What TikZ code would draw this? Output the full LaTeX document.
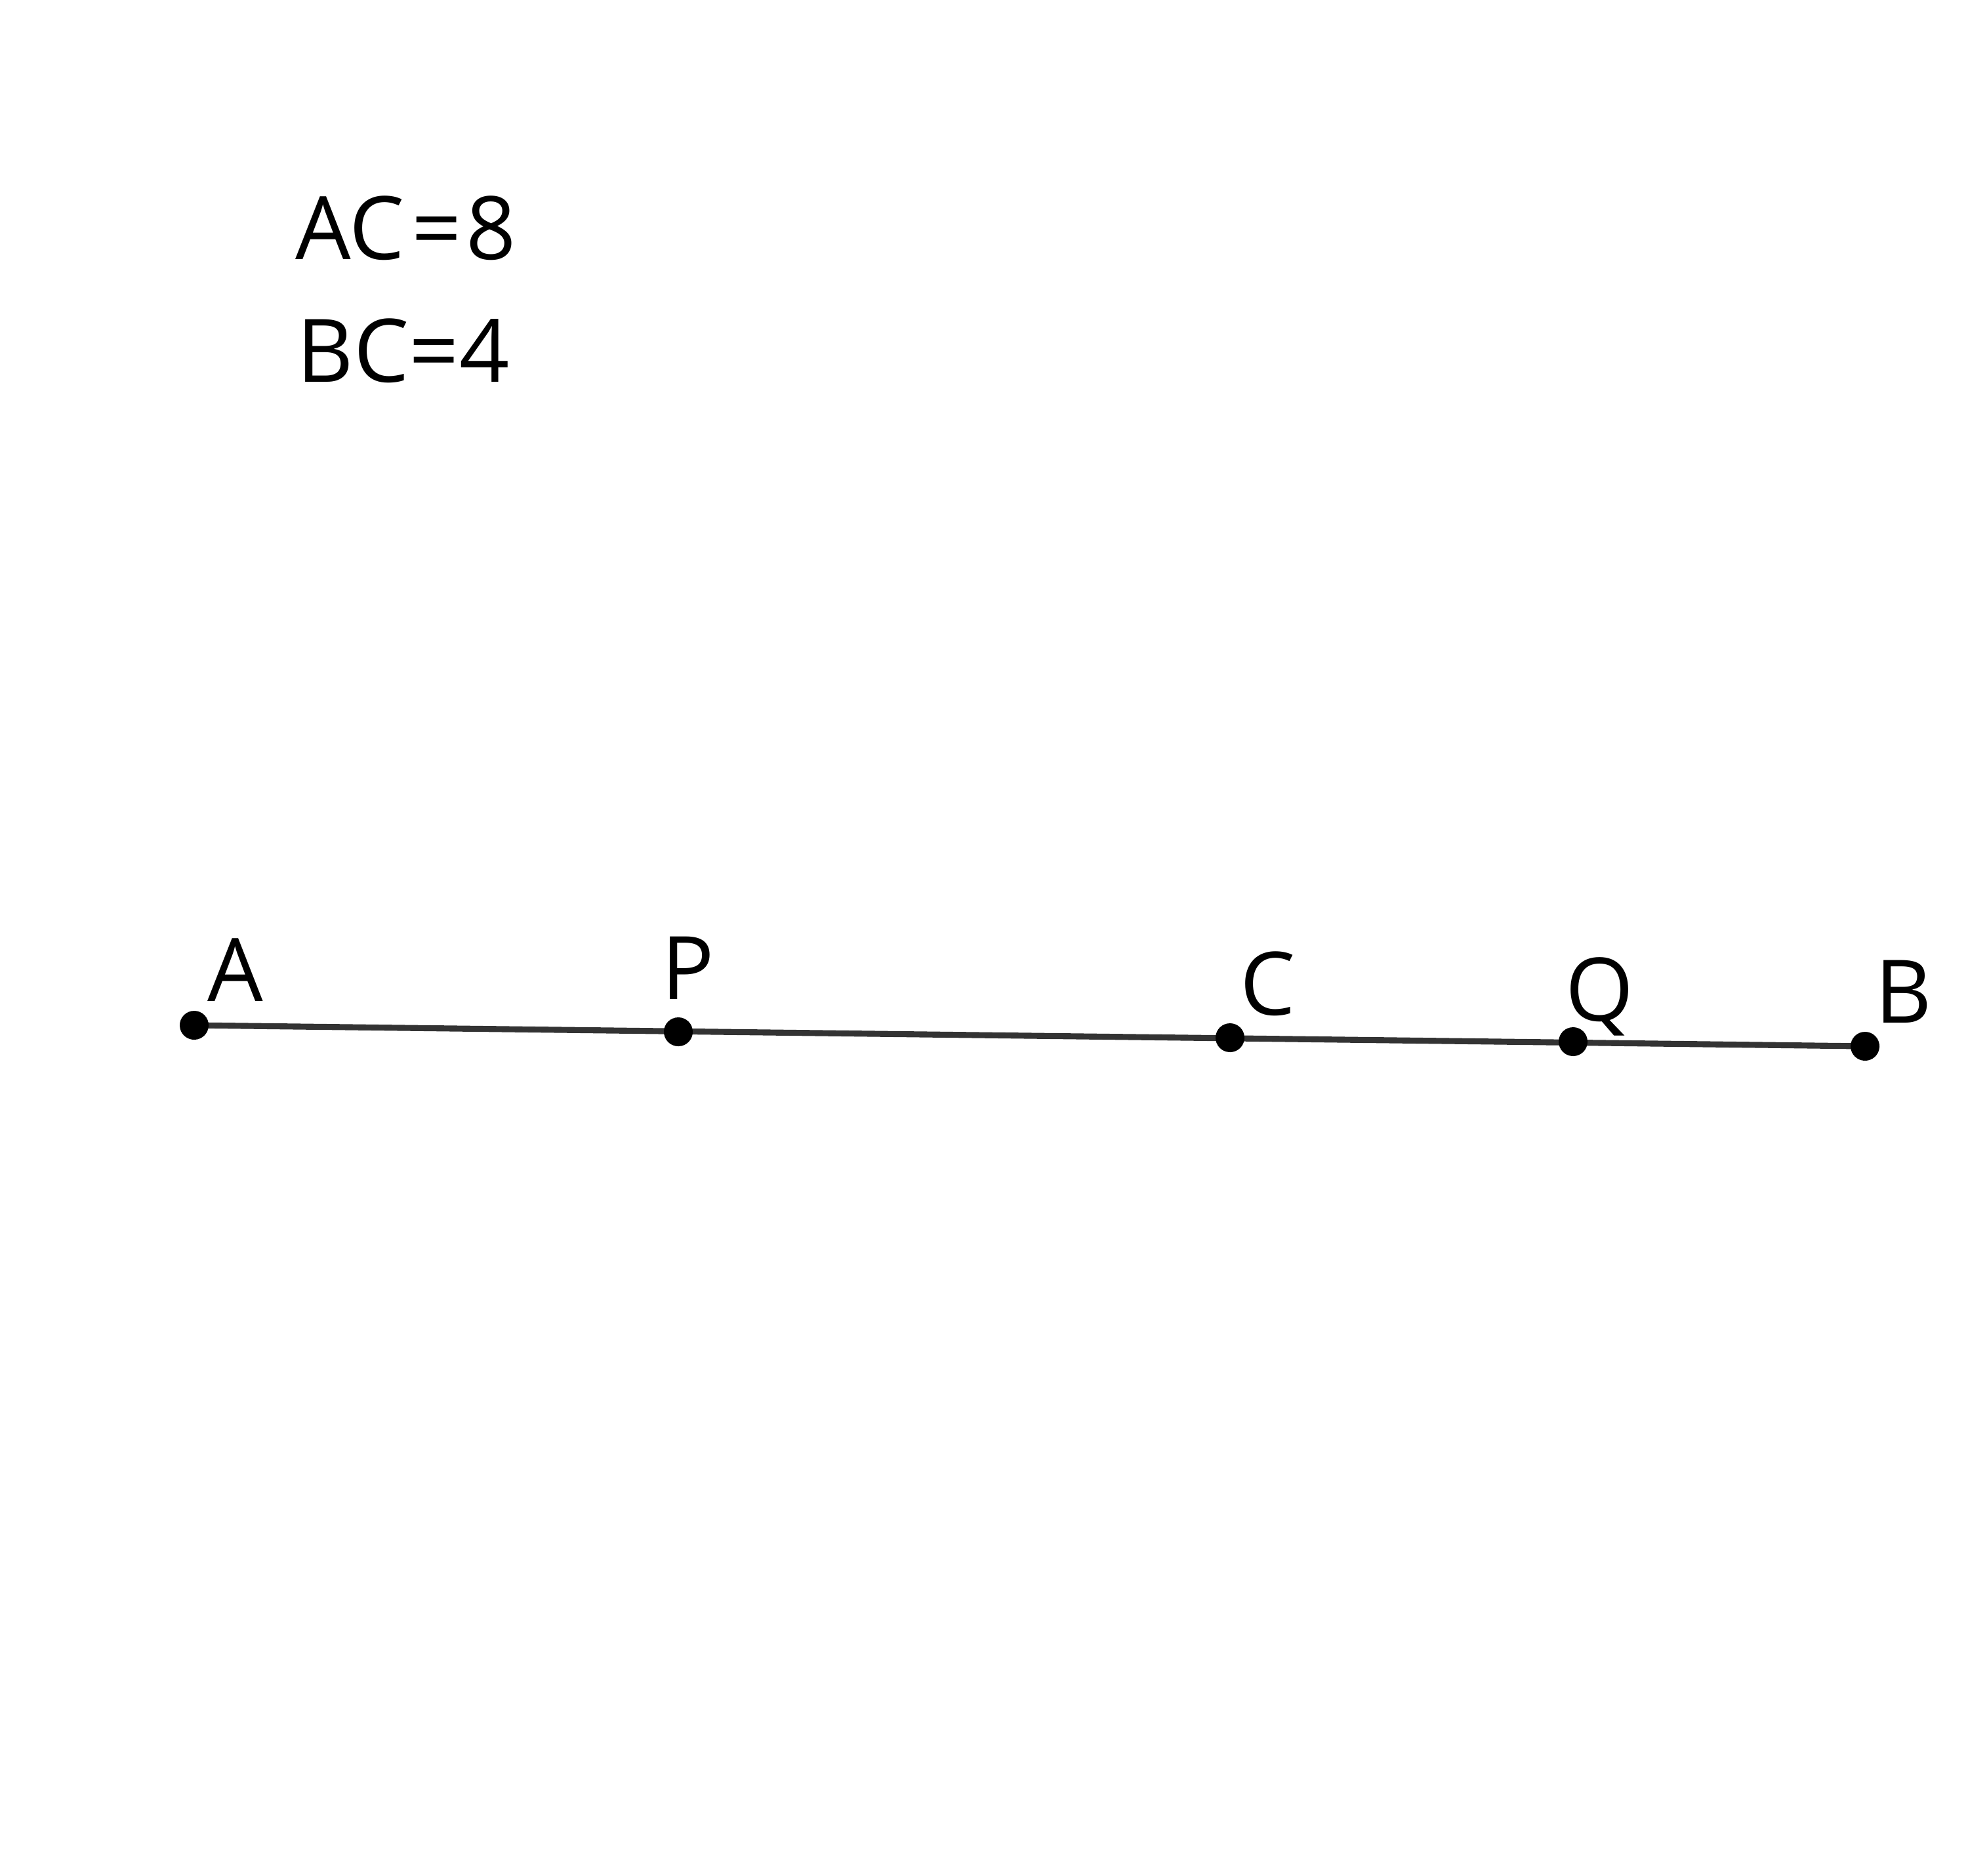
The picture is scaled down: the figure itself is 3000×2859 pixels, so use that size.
\documentclass[tikz,border=0pt]{standalone}
\usepackage{fontspec}
\setmainfont{Open Sans}
\definecolor{seg}{HTML}{333333}
\newcommand{\myeq}{\kern3pt=\kern2pt}
\begin{document}
\begin{tikzpicture}[x=0.01cm,y=-0.01cm,
  dot/.style={circle,fill=black,inner sep=0pt,minimum size=0.44cm},
  lbl/.style={anchor=base west,inner sep=0pt,font=\fontsize{38}{46}\selectfont},
  segline/.style={draw=seg,line width=2.6pt}]
\useasboundingbox (0,0) rectangle (3000,2859);
\coordinate (A) at (296,1563);
\coordinate (P) at (1034,1573);
\coordinate (C) at (1875,1582);
\coordinate (Q) at (2398,1588);
\coordinate (B) at (2843,1595);
\draw[segline] (A) -- (B);
\foreach \p in {A,P,C,Q,B} \node[dot] (d\p) at (\p) {};
\node[lbl] (lA) at (316,1526) {A};
\node[lbl] (lP) at (1008,1523) {P};
\node[lbl] (lC) at (1890,1547) {C};
\node[lbl] (lQ) at (2386,1556) {Q};
\node[lbl] (lB) at (2858,1559) {B};
\node[lbl] (t1) at (450,395) {AC\myeq 8};
\node[lbl] (t2) at (452,582) {BC=4};
\end{tikzpicture}
\end{document}
